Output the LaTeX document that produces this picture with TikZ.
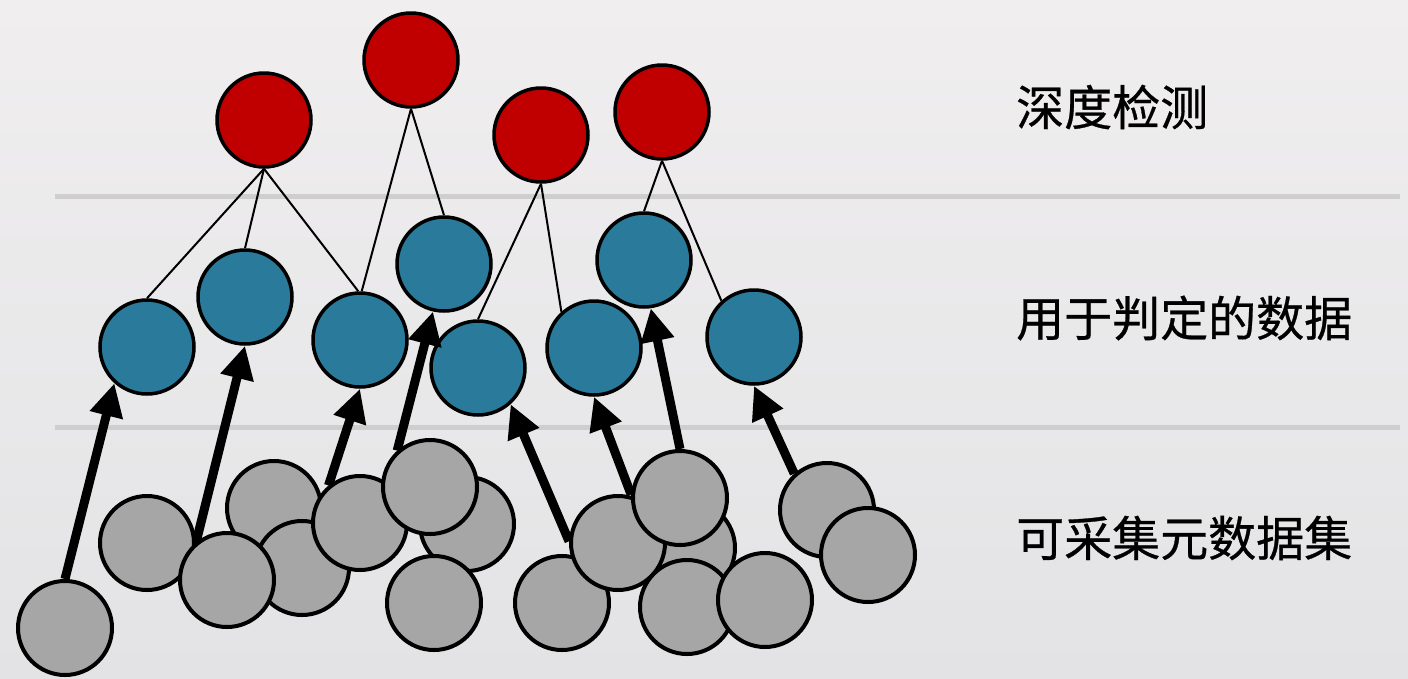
\documentclass[tikz,border=0pt]{standalone}
\usepackage{fontspec}
\newfontfamily\cjk[FakeBold=0.6]{Noto Sans CJK SC}
\usetikzlibrary{arrows.meta}
\definecolor{redc}{HTML}{C00000}
\definecolor{bluec}{HTML}{297A9B}
\definecolor{grayc}{HTML}{A6A6A6}
\definecolor{sepc}{HTML}{CFCDCE}
\definecolor{bgtop}{HTML}{F0EEEF}
\definecolor{bgbot}{HTML}{E3E3E5}
\tikzset{
  ball/.style={circle, draw=black, inner sep=0pt, minimum size=94pt},
  redball/.style={ball, fill=redc, line width=3.5pt},
  blueball/.style={ball, fill=bluec, line width=3.5pt},
  grayball/.style={ball, fill=grayc, line width=4pt},
  link/.style={draw=black, line width=2pt},
  uparrow/.style={draw=black, line width=9pt, -{Triangle[length=33pt,width=32pt]}},
  seprule/.style={draw=sepc, line width=5pt},
  label/.style={anchor=west, inner sep=0pt, font=\cjk\fontsize{48}{48}\selectfont, text=black}
}
\begin{document}
\begin{tikzpicture}[x=1pt,y=-1pt]
\useasboundingbox (0,0) rectangle (1408,678);
\shade[top color=bgtop, bottom color=bgbot] (0,0) rectangle (1408,678);
% separators
\draw[seprule] (55,196) -- (1400,196);
\draw[seprule] (55,427) -- (1400,427);
% labels
\node[label] (t1) at (1016,107) {深度检测};
\node[label] (t2) at (1016,318) {用于判定的数据};
\node[label] (t3) at (1016,538) {可采集元数据集};
% red
\node[redball] (R1) at (264,120) {};
\node[redball] (R2) at (411,60) {};
\node[redball] (R3) at (541,135) {};
\node[redball] (R4) at (662,112) {};
% blue
\node[blueball] (B1) at (147,347) {};
\node[blueball] (B2) at (245,297) {};
\node[blueball] (B3) at (360,340) {};
\node[blueball] (B4) at (444,264) {};
\node[blueball] (B5) at (478,368) {};
\node[blueball] (B6) at (594,348) {};
\node[blueball] (B7) at (644,260) {};
\node[blueball] (B8) at (754,337) {};
% links
\draw[link] (R1.south) -- (B1.north);
\draw[link] (R1.south) -- (B2.north);
\draw[link] (R1.south) -- (B3.92);
\draw[link] (R2.south) -- (B3.88);
\draw[link] (R2.south) -- (B4.north);
\draw[link] (R3.south) -- (B5.north);
\draw[link] (R3.south) -- (B6.132);
\draw[link] (R4.south) -- (B7.north);
\draw[link] (R4.south) -- (B8.132);
% gray, back to front
\node[grayball] (G3) at (274,508) {};
\node[grayball] (G4) at (302,568) {};
\node[grayball] (G2) at (147,543) {};
\node[grayball] (G5) at (227,580) {};
\node[grayball] (G1) at (65,628) {};
\node[grayball] (G6) at (360,523) {};
\node[grayball] (G8) at (467,524) {};
\node[grayball] (G9) at (434,603) {};
\node[grayball] (G7) at (430,487) {};
\node[grayball] (G13) at (688,548) {};
\node[grayball] (G10) at (562,603) {};
\node[grayball] (G11) at (618,543) {};
\node[grayball] (G12) at (680,498) {};
\node[grayball] (G14) at (687,607) {};
\node[grayball] (G15) at (765,600) {};
\node[grayball] (G16) at (827,510) {};
\node[grayball] (G17) at (868,555) {};
% arrows
\draw[uparrow] (G1.north) -- (B1.228);
\draw[uparrow] (G5.129) -- (B2.south);
\draw[uparrow] (G6.130) -- (B3.south);
\draw[uparrow] (G7.132) -- (B4.257);
\draw[uparrow] (G11.178) -- (B5.312);
\draw[uparrow] (G12.176) -- (B6.south);
\draw[uparrow] (G12.north) -- (B7.278);
\draw[uparrow] (G16.132) -- (B8.south);
\end{tikzpicture}
\end{document}
